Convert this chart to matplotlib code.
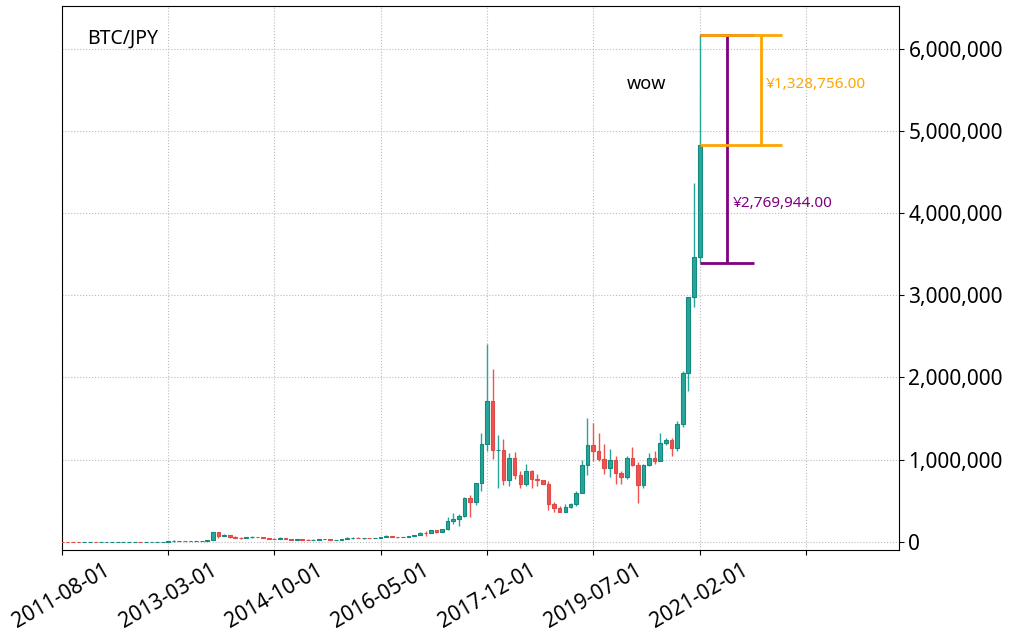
import numpy as np
import pandas as pd
import matplotlib
matplotlib.use('Agg')
import matplotlib.pyplot as plt
import matplotlib.dates as mdates
from matplotlib.ticker import FuncFormatter

plt.rcParams['font.family'] = ['Noto Sans', 'DejaVu Sans']

# monthly BTC/JPY candles, 2011-08 .. 2021-02
months = pd.date_range('2011-08-01', '2021-02-01', freq='MS')
opens = [1050, 640, 400, 250, 230, 360, 430, 380, 390, 410, 420, 530, 730, 800, 990, 900, 1030,
         1150, 1800, 3200, 8700, 13000, 13000, 9000, 10500, 13800, 13900, 20500, 115000,
         75000, 85000, 58000, 47000, 46000, 64000, 65000, 60000, 48000, 42000, 37000, 45000,
         38000, 26000, 30000, 29000, 28000, 28000, 32000, 35000, 28000, 28000, 38000, 45000,
         52000, 43000, 49000, 47000, 49000, 60000, 68000, 64000, 59000, 62000, 73000, 84000,
         112000, 106000, 142000, 118000, 152000, 260000, 285000, 310000, 530000, 480000, 720000, 1190000,
         1720000, 1120000, 1120000, 750000, 1020000, 820000, 710000, 860000, 770000, 750000, 710000, 460000,
         410000, 370000, 420000, 460000, 590000, 940000, 1180000, 1110000, 1010000, 900000, 1000000, 840000,
         790000, 1020000, 930000, 690000, 930000, 1020000, 990000, 1200000, 1240000, 1140000, 1440000, 2060000,
         2980000, 3470000]
highs = [1070, 680, 420, 280, 370, 560, 480, 420, 420, 430, 540, 730, 1250, 1000, 1050, 1050, 1150,
         1900, 3300, 9000, 25000, 13500, 13000, 11000, 12000, 14500, 21000, 120000, 125000,
         95000, 88000, 72000, 55000, 65000, 69000, 65000, 61000, 52000, 45000, 57000, 50000,
         38000, 33000, 35000, 31000, 30000, 33000, 39000, 35000, 29000, 40000, 60000, 56000,
         55000, 49000, 49000, 50000, 60000, 80000, 72000, 64000, 62000, 74000, 84000, 118000,
         130000, 145000, 150000, 158000, 300000, 350000, 340000, 545000, 570000, 720000, 1330000, 2410000,
         2100000, 1300000, 1250000, 1080000, 1090000, 860000, 950000, 880000, 830000, 740000, 740000, 490000,
         440000, 460000, 470000, 620000, 1000000, 1510000, 1450000, 1320000, 1190000, 1130000, 1050000, 860000,
         1050000, 1160000, 970000, 950000, 1080000, 1110000, 1330000, 1270000, 1260000, 1470000, 2080000, 2980000,
         4370000, 6160000]
lows = [590, 370, 170, 160, 220, 350, 330, 340, 370, 390, 410, 520, 620, 800, 860, 850, 1000,
        1100, 1800, 3100, 5000, 8000, 6500, 6500, 9800, 12000, 10500, 20000, 50000,
        72000, 48000, 45000, 35000, 43000, 54000, 57000, 43000, 38000, 32000, 34000, 37000,
        18000, 25000, 29000, 26000, 27000, 27000, 31000, 24000, 27000, 28000, 35000, 42000,
        43000, 42000, 45000, 46000, 48000, 58000, 60000, 52000, 59000, 62000, 72000, 83000,
        77000, 105000, 105000, 118000, 150000, 220000, 200000, 300000, 300000, 450000, 620000, 1100000,
        1010000, 650000, 690000, 680000, 770000, 650000, 680000, 660000, 680000, 700000, 390000, 360000,
        360000, 360000, 410000, 440000, 590000, 810000, 980000, 990000, 830000, 790000, 710000, 710000,
        770000, 920000, 470000, 660000, 920000, 950000, 980000, 1180000, 1050000, 1100000, 1400000, 1830000,
        2860000, 3390056]
closes = opens[1:] + [4831244]

dates = mdates.date2num(months.to_pydatetime())

fig, ax = plt.subplots(figsize=(10.12, 6.39), dpi=100)
fig.subplots_adjust(left=0.061, right=0.888, top=0.991, bottom=0.139)

up_col, dn_col = '#26a69a', '#ef5350'
for d, o, h, l, c in zip(dates, opens, highs, lows, closes):
    col = up_col if c >= o else dn_col
    edge = '#16897e' if c >= o else '#dd4a47'
    ax.vlines(d, l, h, color=col, lw=1, zorder=2)
    ax.bar(d, max(abs(c - o), 1), bottom=min(o, c), width=20, color=col,
           edgecolor=edge, lw=0.8, zorder=3)

# measurement annotations on the last candle
last = dates[-1]
hi, lo, cl = highs[-1], lows[-1], closes[-1]
purple, orange = '#800080', '#FFA500'
ax.hlines([hi, lo], last, last + 294, color=purple, lw=2, zorder=4)
ax.vlines(last + 147, lo, hi, color=purple, lw=2, zorder=4)
ax.text(last + 179, 4110000, '¥{:,.2f}'.format(hi - lo), color=purple,
        fontsize=11, va='center')
ax.hlines([hi, cl], last, last + 446, color=orange, lw=2, zorder=4)
ax.vlines(last + 332, cl, hi, color=orange, lw=2, zorder=4)
ax.text(last + 359, 5560000, '¥{:,.2f}'.format(hi - cl), color=orange,
        fontsize=11, va='center')
ax.text(last - 397, 5570000, 'wow', fontsize=13, va='center')
ax.text(0.03, 0.94, 'BTC/JPY', transform=ax.transAxes, fontsize=14, va='center')

ax.set_xlim(mdates.date2num(pd.Timestamp('2011-08-01')), mdates.date2num(pd.Timestamp('2024-01-20')))
ax.set_ylim(-100000, 6520000)

xt = pd.date_range('2011-08-01', periods=8, freq='19MS')
ax.set_xticks(mdates.date2num(xt.to_pydatetime()))
ax.set_xticklabels([t.strftime('%Y-%m-%d') for t in xt[:7]] + [''], rotation=30, ha='center', fontsize=15)
ax.set_yticks(np.arange(0, 6000001, 1000000))
ax.yaxis.set_major_formatter(FuncFormatter(lambda v, p: '{:,.0f}'.format(v)))
ax.yaxis.tick_right()
ax.tick_params(axis='y', labelsize=15)
ax.grid(True, ls=':', color='#bbbbbb', lw=0.8, zorder=0)
ax.set_axisbelow(True)

fig.savefig('out.png', dpi=100)
